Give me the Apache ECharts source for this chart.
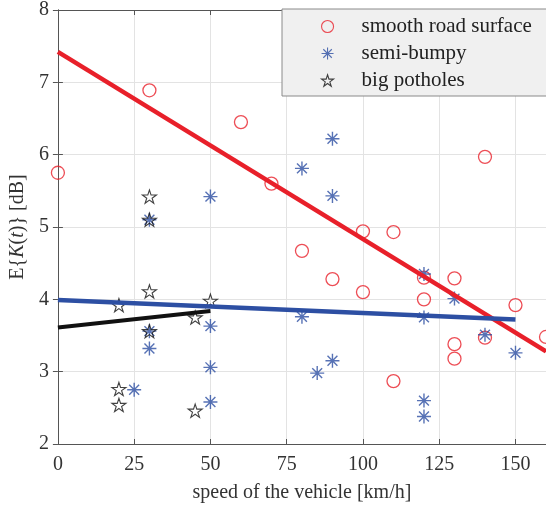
<!DOCTYPE html>
<html>
<head>
<meta charset="utf-8">
<script src="https://cdn.jsdelivr.net/npm/echarts@6/dist/echarts.min.js"></script>
<style>html,body{margin:0;padding:0;background:#fff}#c{width:546px;height:508px}</style>
</head>
<body>
<div id="c"></div>
<script>
// ---- data ----
const xTicks = [0, 25, 50, 75, 100, 125, 150];
const yTicks = [2, 3, 4, 5, 6, 7, 8];

const smoothX = [0, 30, 60, 70, 80, 80, 90, 100, 100, 110, 110, 120, 120, 130, 130, 130, 140, 140, 150, 160];
const smoothY = [5.75, 6.89, 6.45, 5.60, 6.91, 4.67, 4.28, 4.94, 4.10, 4.93, 2.87, 4.30, 4.00, 4.29, 3.38, 3.18, 5.97, 3.47, 3.92, 3.48];

const bumpyX = [25, 30, 30, 30, 50, 50, 50, 50, 80, 80, 85, 90, 90, 90, 120, 120, 120, 120, 130, 140, 150];
const bumpyY = [2.75, 5.10, 3.56, 3.32, 5.42, 3.63, 3.06, 2.58, 5.81, 3.76, 2.98, 6.22, 5.43, 3.15, 4.35, 3.75, 2.60, 2.38, 4.01, 3.51, 3.26];

const potholeX = [20, 20, 20, 30, 30, 30, 30, 45, 45, 50];
const potholeY = [3.92, 2.76, 2.54, 5.42, 5.10, 4.11, 3.56, 3.75, 2.46, 3.98];

// fitted trend lines (endpoints)
const smoothFitX = [0, 160];
const smoothFitY = [7.42, 3.28];
const bumpyFitX = [0, 150];
const bumpyFitY = [3.99, 3.72];
const potholeFitX = [0, 50];
const potholeFitY = [3.61, 3.84];

const names = ['smooth road surface', 'semi-bumpy', 'big potholes'];

// ---- chart ----
const zip = (xs, ys) => xs.map((x, i) => [x, ys[i]]);
const RED = '#e8202a', BLUE = '#2d4fa3', BLACK = '#111111';
const FONT = 'Liberation Serif';
const ASTER = 'path://M0,-10 L0,10 M-10,0 L10,0 M-7.07,-7.07 L7.07,7.07 M-7.07,7.07 L7.07,-7.07';
const STAR = 'path://M0,-100 L22.45,-30.9 L95.11,-30.9 L36.33,11.8 L58.78,80.9 L0,38.2 L-58.78,80.9 L-36.33,11.8 L-95.11,-30.9 L-22.45,-30.9 Z';

const axisLineStyle = { color: '#555', width: 1 };
const chart = echarts.init(document.getElementById('c'), null, { renderer: 'canvas' });
chart.setOption({
  animation: false,
  textStyle: { fontFamily: FONT },
  grid: { left: 56, top: 10, width: 491, height: 435, containLabel: false },
  legend: {
    data: names,
    orient: 'vertical',
    left: 282, top: 9,
    padding: [7, 30, 5, 39],
    itemWidth: 12, itemHeight: 12, itemGap: 6,
    backgroundColor: '#f0f0f0',
    borderColor: '#8a8a8a', borderWidth: 1,
    itemStyle: { borderWidth: 1.1 },
    textStyle: { fontFamily: FONT, fontSize: 21, lineHeight: 21, color: '#222', padding: [0, 0, 0, 23] }
  },
  xAxis: [{
    type: 'value', min: 0, max: 160, interval: 25,
    position: 'bottom',
    name: 'speed of the vehicle [km/h]', nameLocation: 'middle', nameGap: 39,
    nameTextStyle: { fontFamily: FONT, fontSize: 20, color: '#333' },
    axisLine: { show: true, lineStyle: axisLineStyle },
    axisTick: { show: true, inside: true, length: 5, lineStyle: axisLineStyle },
    axisLabel: { fontFamily: FONT, fontSize: 20, color: '#333', margin: 11, showMaxLabel: false,
      formatter: v => xTicks.includes(v) ? String(v) : '' },
    splitLine: { show: true, lineStyle: { color: '#e3e3e3', width: 1 } }
  }, {
    type: 'value', min: 0, max: 160, interval: 25, position: 'top',
    axisLine: { show: true, lineStyle: axisLineStyle },
    axisTick: { show: true, inside: true, length: 5, lineStyle: axisLineStyle },
    axisLabel: { show: false }, splitLine: { show: false }
  }],
  yAxis: [{
    type: 'value', min: 2, max: 8, interval: 1, position: 'left',
    name: 'E{{i|K}({i|t})} [dB]', nameLocation: 'middle', nameGap: 27, nameRotate: 90,
    nameTextStyle: { fontFamily: FONT, fontSize: 20, color: '#333',
      rich: { i: { fontFamily: FONT, fontSize: 20, fontStyle: 'italic', color: '#333' } } },
    axisLine: { show: true, lineStyle: axisLineStyle },
    axisTick: { show: true, inside: true, length: 5, lineStyle: axisLineStyle },
    axisLabel: { fontFamily: FONT, fontSize: 20, color: '#333', margin: 9,
      formatter: v => yTicks.includes(v) ? String(v) : '' },
    splitLine: { show: true, lineStyle: { color: '#e3e3e3', width: 1 } }
  }, {
    type: 'value', min: 2, max: 8, interval: 1, position: 'right',
    axisLine: { show: true, lineStyle: axisLineStyle },
    axisTick: { show: true, inside: true, length: 5, lineStyle: axisLineStyle },
    axisLabel: { show: false }, splitLine: { show: false }
  }],
  series: [
    { name: names[0], type: 'scatter', symbol: 'circle', symbolSize: 13,
      itemStyle: { color: 'rgba(0,0,0,0)', borderColor: RED, borderWidth: 1.3 },
      data: zip(smoothX, smoothY), z: 3 },
    { name: names[1], type: 'scatter', symbol: ASTER, symbolSize: 14,
      itemStyle: { color: 'rgba(0,0,0,0)', borderColor: BLUE, borderWidth: 1.4 },
      data: zip(bumpyX, bumpyY), z: 3 },
    { name: names[2], type: 'scatter', symbol: STAR, symbolSize: 14, symbolKeepAspect: true,
      itemStyle: { color: 'rgba(0,0,0,0)', borderColor: BLACK, borderWidth: 1.1 },
      data: zip(potholeX, potholeY), z: 3 },
    { type: 'line', data: zip(smoothFitX, smoothFitY), showSymbol: false, symbol: 'none',
      lineStyle: { color: RED, width: 4.5 }, z: 4, silent: true },
    { type: 'line', data: zip(bumpyFitX, bumpyFitY), showSymbol: false, symbol: 'none',
      lineStyle: { color: BLUE, width: 4.5 }, z: 4, silent: true },
    { type: 'line', data: zip(potholeFitX, potholeFitY), showSymbol: false, symbol: 'none',
      lineStyle: { color: BLACK, width: 4 }, z: 4, silent: true }
  ]
});
</script>
</body>
</html>
